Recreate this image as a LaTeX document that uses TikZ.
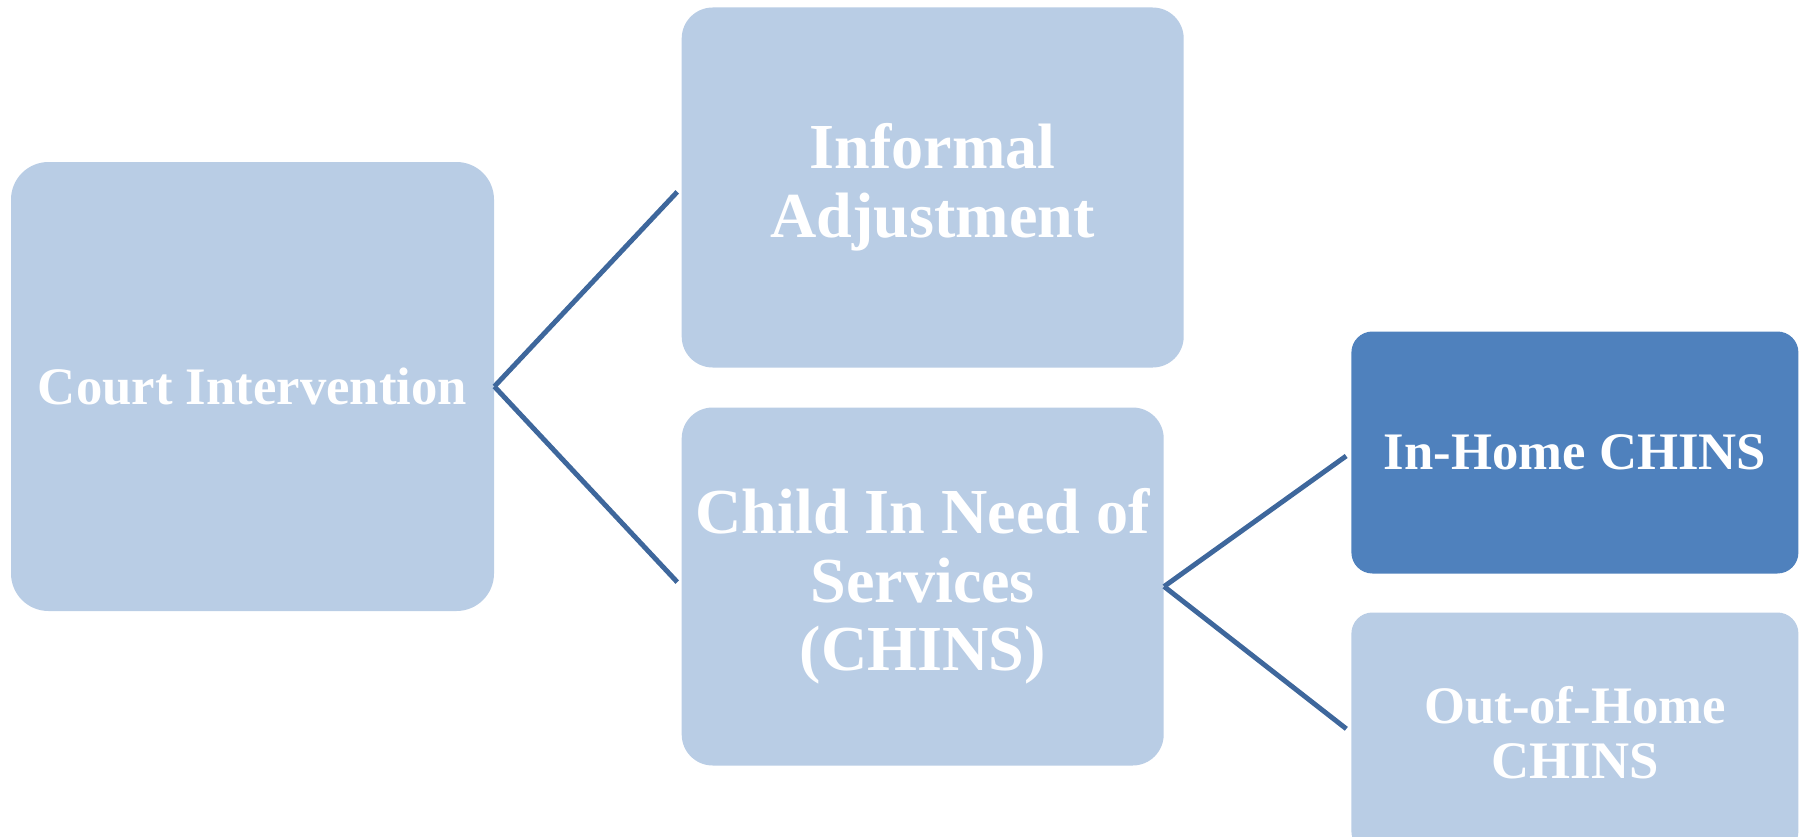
\documentclass[tikz,border=0pt]{standalone}
\usepackage{fontspec}
\setmainfont{Liberation Serif}
\usepackage{tikz}
\usetikzlibrary{positioning}

\definecolor{boxlight}{HTML}{B9CDE5}
\definecolor{boxdark}{HTML}{4F81BD}
\definecolor{linkblue}{HTML}{3E679C}

\begin{document}
\begin{tikzpicture}[
			boxnode/.style={rectangle, fill=boxlight, text=white, align=center, inner sep=0pt,
				font=\fontsize{30}{38}\selectfont\bfseries},
			bigtext/.style={font=\fontsize{36.5}{39}\selectfont\bfseries},
			darkbox/.style={boxnode, fill=boxdark},
			link/.style={draw=linkblue, line width=2.8pt, shorten >=0.12cm},
		]

			\useasboundingbox (0,0) rectangle (36.1,-16.74);
			\clip (0,0) rectangle (36.1,-16.74);

			%Nodes
			\node[boxnode, minimum width=9.66cm, minimum height=8.98cm, rounded corners=0.75cm]	(court)	at (5.05,-7.73)	{Court Intervention};
			\node[boxnode, bigtext, minimum width=10.04cm, minimum height=7.2cm, rounded corners=0.62cm]	(informal)[right=3.74cm of court, yshift=3.98cm]	{Informal\\Adjustment};
			\node[boxnode, bigtext, minimum width=9.64cm, minimum height=7.16cm, rounded corners=0.62cm]	(chins)[right=3.74cm of court, yshift=-4.0cm]	{Child In Need of\\Services\\(CHINS)};
			\node[darkbox, minimum width=8.94cm, minimum height=4.84cm, rounded corners=0.42cm]	(inhome)[right=3.74cm of chins, yshift=2.68cm]	{In-Home CHINS};
			\node[boxnode, minimum width=8.94cm, minimum height=4.8cm, rounded corners=0.42cm,
				font=\fontsize{30}{31}\selectfont\bfseries]	(outhome)[right=3.74cm of chins, yshift=-2.92cm]	{Out-of-Home\\CHINS};

			%Lines
			\draw[link]	(court.east) -- (informal.west);
			\draw[link]	(court.east) -- (chins.west);
			\draw[link]	(chins.east) -- (inhome.west);
			\draw[link]	(chins.east) -- (outhome.west);

		\end{tikzpicture}
\end{document}
